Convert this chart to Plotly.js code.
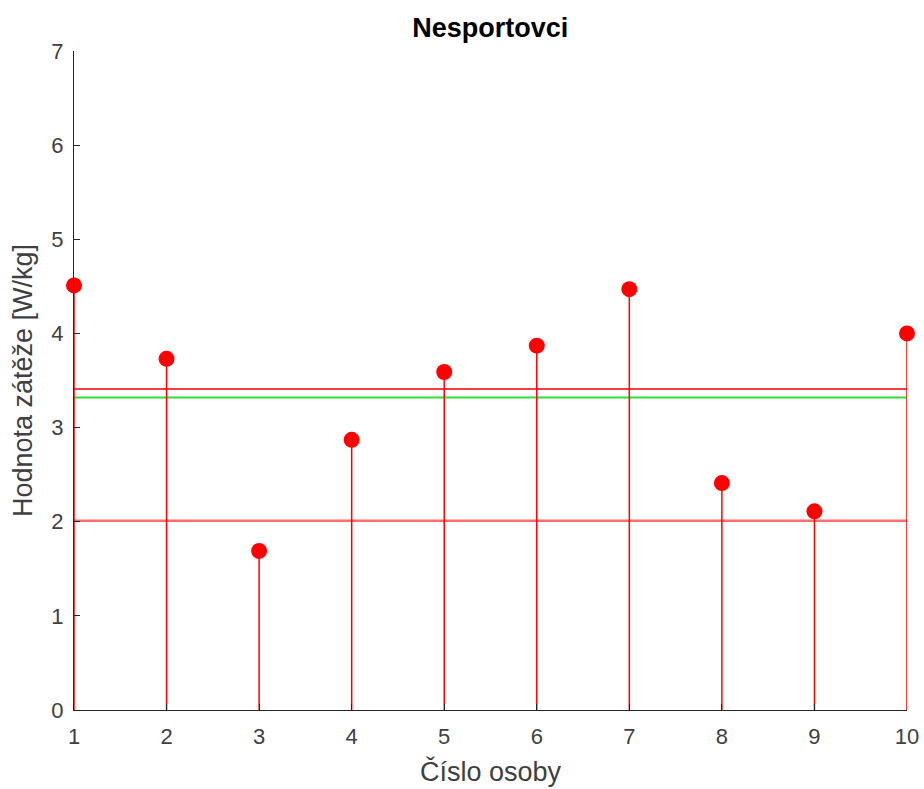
<!DOCTYPE html>
<html>
<head>
<meta charset="utf-8">
<script src="https://cdn.plot.ly/plotly-3.0.1.min.js"></script>
<style>html,body{margin:0;padding:0;background:#fff;}#chart{width:924px;height:789px;}</style>
</head>
<body>
<div id="chart"></div>
<script>
const persons = [1, 2, 3, 4, 5, 6, 7, 8, 9, 10];
const loads = [4.51, 3.73, 1.69, 2.87, 3.59, 3.87, 4.47, 2.41, 2.11, 4.00];
const meanLine = 3.41;
const greenLine = 3.32;
const lowerLine = 2.01;
const xTicks = [1, 2, 3, 4, 5, 6, 7, 8, 9, 10];
const yTicks = [0, 1, 2, 3, 4, 5, 6, 7];

const xEnds = [persons[0], persons[persons.length - 1]];

const traces = [
  {
    x: xEnds, y: [lowerLine, lowerLine], mode: 'lines', type: 'scatter',
    line: {color: 'rgba(255,60,60,0.75)', width: 2.5}, hoverinfo: 'skip'
  },
  {
    x: xEnds, y: [meanLine, meanLine], mode: 'lines', type: 'scatter',
    line: {color: 'rgba(255,40,40,0.9)', width: 2}, hoverinfo: 'skip'
  },
  {
    x: xEnds, y: [greenLine, greenLine], mode: 'lines', type: 'scatter',
    line: {color: '#33dd33', width: 2}, hoverinfo: 'skip'
  },
  {
    x: persons, y: loads, mode: 'markers', type: 'scatter',
    marker: {color: '#ff0000', size: 16},
    error_y: {
      type: 'data', symmetric: false,
      array: loads.map(() => 0), arrayminus: loads,
      width: 0, color: '#ff0000', thickness: 1.5
    },
    cliponaxis: false
  }
];

const layout = {
  width: 924, height: 789,
  margin: {l: 74, r: 17, t: 51, b: 79},
  paper_bgcolor: '#fff', plot_bgcolor: '#fff',
  showlegend: false,
  font: {family: 'Liberation Sans, Arial, sans-serif', color: '#404040'},
  title: {
    text: '<b>Nesportovci</b>',
    font: {size: 27, color: '#000', family: 'Liberation Sans, Arial, sans-serif'},
    x: 0.5305, xanchor: 'center', y: 0.965, yanchor: 'middle'
  },
  xaxis: {
    range: [1, 10], tickvals: xTicks, ticktext: xTicks.map(String),
    ticks: 'inside', ticklen: 6, tickcolor: '#262626',
    showline: true, linecolor: '#262626', linewidth: 1,
    showgrid: false, zeroline: false,
    ticklabelstandoff: 7,
    tickfont: {size: 22, color: '#404040'},
    title: {text: 'Číslo osoby', font: {size: 27, color: '#404040'}, standoff: 13}
  },
  yaxis: {
    range: [0, 7], tickvals: yTicks, ticktext: yTicks.map(String),
    ticks: 'inside', ticklen: 6, tickcolor: '#262626',
    showline: true, linecolor: '#262626', linewidth: 1,
    showgrid: false, zeroline: false,
    ticklabelstandoff: 5,
    tickfont: {size: 22, color: '#404040'},
    title: {text: 'Hodnota zátěže [W/kg]', font: {size: 27, color: '#404040'}, standoff: 10}
  }
};

Plotly.newPlot('chart', traces, layout, {displayModeBar: false, staticPlot: true});
</script>
</body>
</html>
